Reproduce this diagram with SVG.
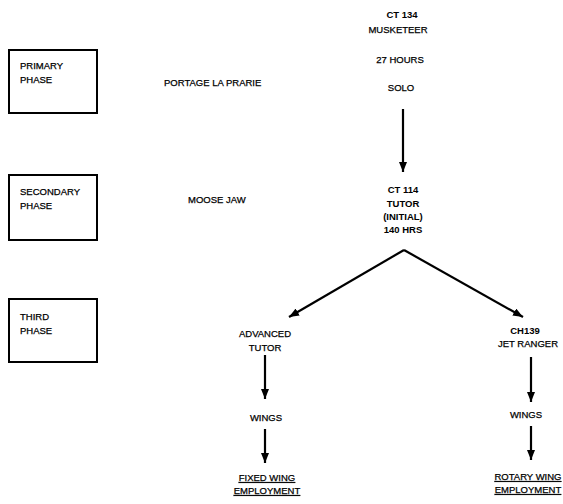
<svg xmlns="http://www.w3.org/2000/svg" width="563" height="504" viewBox="0 0 563 504">
<defs>
<marker id="ah" markerWidth="10" markerHeight="8" refX="10" refY="4" orient="auto" markerUnits="userSpaceOnUse">
<path d="M0,0 L10,4 L0,8 Z" fill="#000"/>
</marker>
<style>
text{font-family:"Liberation Sans",Arial,sans-serif;font-size:9.5px;fill:#000;stroke:#000;stroke-width:0.25}
.b{font-weight:bold;stroke-width:0}
.c{text-anchor:middle}
.u{text-decoration:underline}
.box{fill:none;stroke:#000;stroke-width:2}
.ln{fill:none;stroke:#000;stroke-width:2.2;marker-end:url(#ah)}
</style>
</defs>
<rect width="563" height="504" fill="#fff"/>
<g id="primary-phase">
<rect class="box" x="9" y="50" width="88" height="63"/>
<text x="20" y="69">PRIMARY</text>
<text x="20" y="83">PHASE</text>
</g>
<g id="secondary-phase">
<rect class="box" x="9" y="175" width="88" height="65"/>
<text x="20" y="195">SECONDARY</text>
<text x="20" y="209">PHASE</text>
</g>
<g id="third-phase">
<rect class="box" x="9" y="299" width="88" height="63"/>
<text x="20" y="320">THIRD</text>
<text x="20" y="334">PHASE</text>
</g>
<g id="portage"><text x="164" y="86">PORTAGE LA PRARIE</text></g>
<g id="moose-jaw"><text x="188" y="203">MOOSE JAW</text></g>
<g id="ct134">
<text class="c b" x="402" y="18">CT 134</text>
<text class="c" x="398" y="33">MUSKETEER</text>
<text class="c" x="400" y="63">27 HOURS</text>
<text class="c" x="401" y="91">SOLO</text>
</g>
<g id="ct114">
<text class="c b" x="403" y="193">CT 114</text>
<text class="c b" x="403" y="207">TUTOR</text>
<text class="c b" x="403" y="220">(INITIAL)</text>
<text class="c b" x="403" y="233">140 HRS</text>
</g>
<g id="advanced-tutor">
<text class="c" x="265" y="337">ADVANCED</text>
<text class="c" x="265" y="351">TUTOR</text>
</g>
<g id="ch139">
<text class="c b" x="525" y="334">CH139</text>
<text class="c" x="528" y="347">JET RANGER</text>
</g>
<g id="wings-left"><text class="c" x="266" y="421">WINGS</text></g>
<g id="wings-right"><text class="c" x="526" y="418">WINGS</text></g>
<g id="fixed-wing">
<text class="c u" x="267" y="481">FIXED WING</text>
<text class="c u" x="267" y="494">EMPLOYMENT</text>
</g>
<g id="rotary-wing">
<text class="c u" x="528" y="480">ROTARY WING</text>
<text class="c u" x="528" y="493">EMPLOYMENT</text>
</g>
<g id="connectors">
<line class="ln" x1="403" y1="109" x2="403" y2="172"/>
<line class="ln" x1="404" y1="250" x2="289" y2="317"/>
<line class="ln" x1="404" y1="250" x2="523" y2="317"/>
<line class="ln" x1="265" y1="355" x2="265" y2="399"/>
<line class="ln" x1="265" y1="429" x2="265" y2="463"/>
<line class="ln" x1="531" y1="357" x2="531" y2="402"/>
<line class="ln" x1="531" y1="426" x2="531" y2="460"/>
</g>
</svg>
